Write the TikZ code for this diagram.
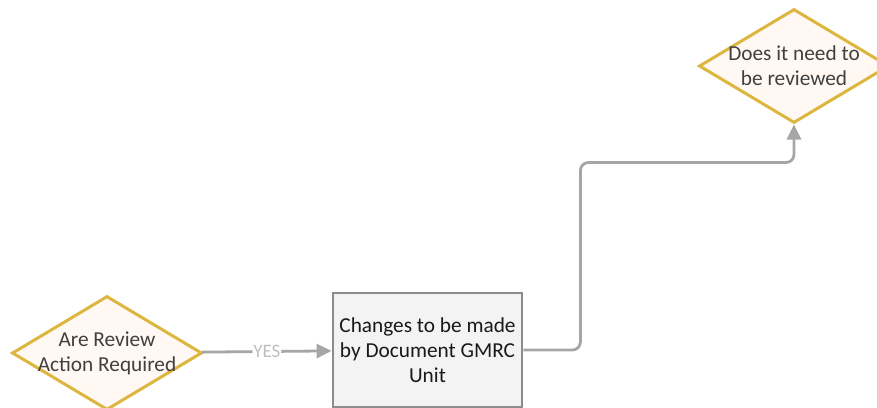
\documentclass[tikz,border=0pt]{standalone}
\usepackage{fontspec}
\setmainfont{Carlito}
\usetikzlibrary{shapes.geometric,arrows.meta,calc}
\definecolor{gold}{HTML}{DDB640}
\definecolor{cream}{HTML}{FFF8F3}
\definecolor{boxgray}{HTML}{F3F3F3}
\definecolor{edgegray}{HTML}{8C8C8C}
\definecolor{flowgray}{HTML}{A6A6A6}
\tikzset{
  decision/.style={diamond, draw=gold, fill=cream, line width=3pt, aspect=1.67,
    minimum width=190pt, minimum height=114pt, inner xsep=-16pt, inner ysep=-4pt,
    align=center, text=black!75, font=\fontsize{21.3}{25}\selectfont},
  process/.style={rectangle, draw=edgegray, fill=boxgray, line width=2.8pt,
    minimum width=189pt, minimum height=114pt, align=center, text=black!90,
    font=\fontsize{21.3}{25}\selectfont},
  flow/.style={draw=flowgray, line width=2.8pt, rounded corners=8pt,
    -{Triangle[length=15pt,width=14pt]}}
}
\begin{document}
\begin{tikzpicture}[x=1pt,y=-1pt]
        \clip (0,0) rectangle (877,407);
        \node[decision] (rev) at (107,353) {Are Review\\Action Required};
        \node[process] (chg) at (427.5,350) {Changes to be made\\by Document GMRC\\Unit};
        \node[decision] (need) at (794,66) {Does it need to\\be reviewed};
        \draw[flow] (rev) to node[fill=white, text=black!25, inner sep=1pt,
            font=\fontsize{19}{21}\selectfont]{YES} (chg);
        \draw[flow] (chg.east) -- ++(57,0) |- ($(need.south)+(0,38)$) -- (need.south);
    \end{tikzpicture}
\end{document}
